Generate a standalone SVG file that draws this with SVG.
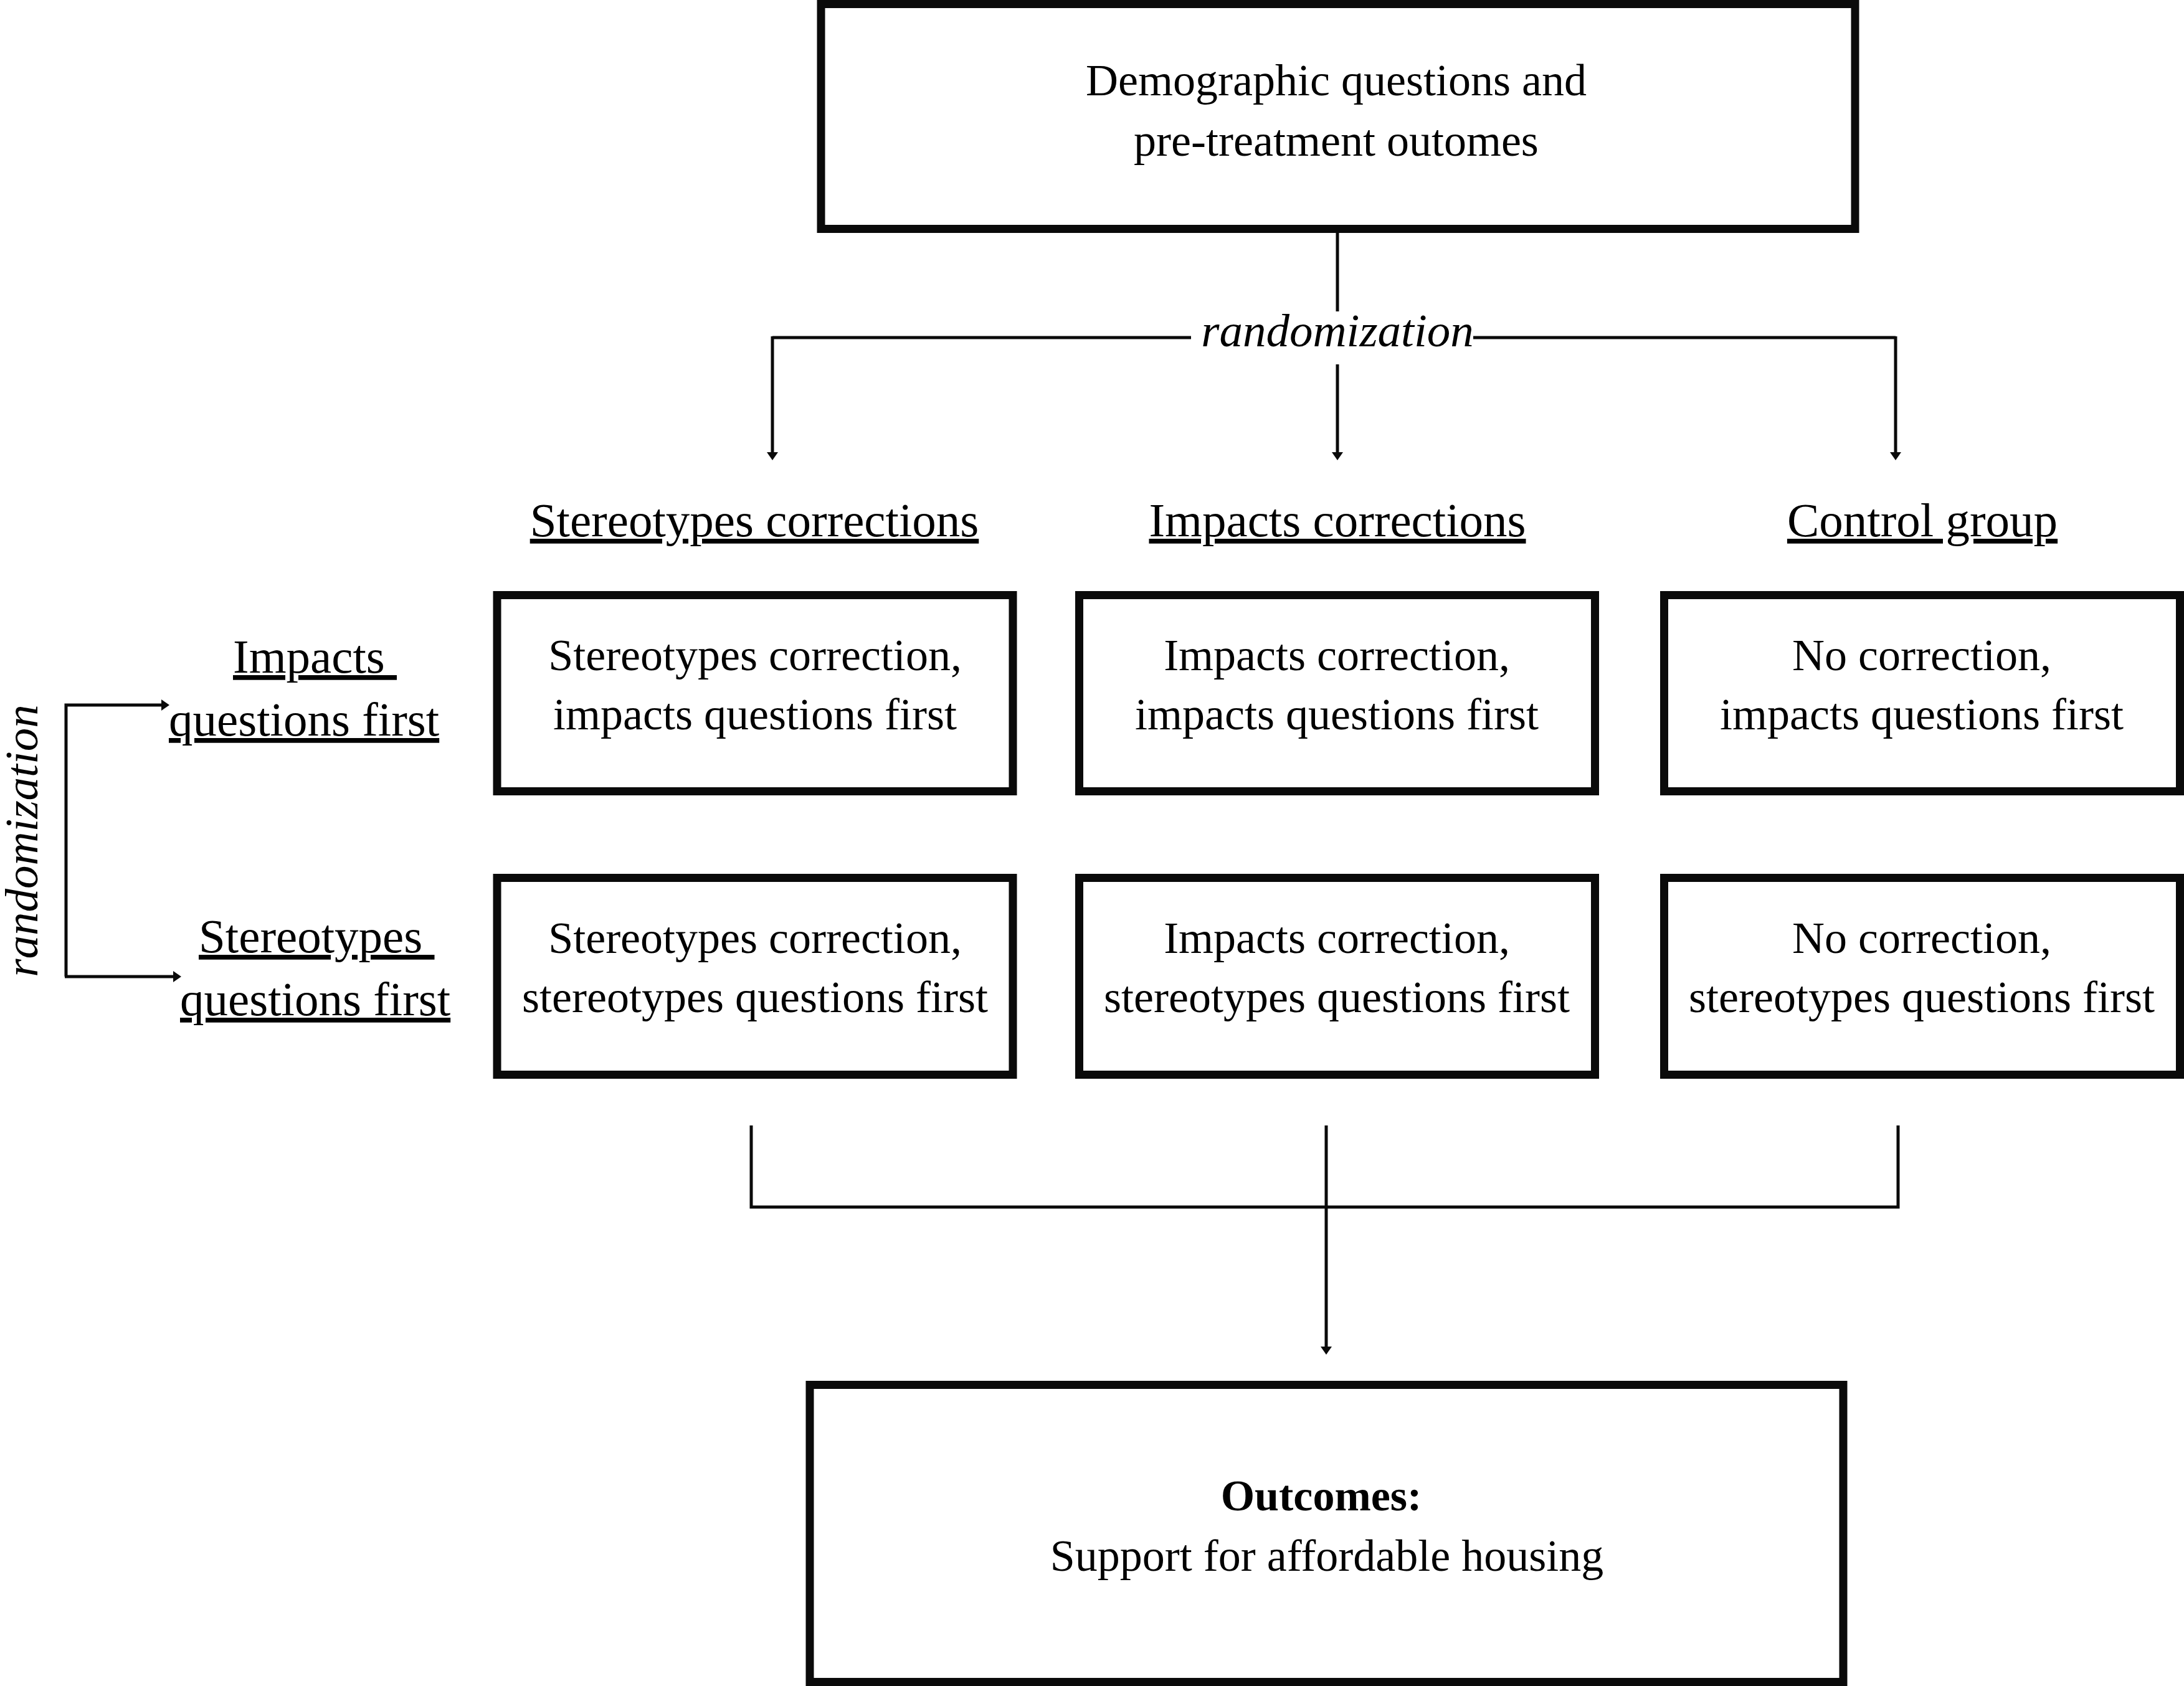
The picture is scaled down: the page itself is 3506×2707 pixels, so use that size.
<svg xmlns="http://www.w3.org/2000/svg" width="3506" height="2707" viewBox="0 0 3506 2707">
<defs>
<style>
.box{fill:#fff;stroke:#0a0a0a;stroke-width:13}
.t{font-family:"Liberation Serif","Times New Roman",serif;font-size:72px;fill:#000;text-anchor:middle}
.h{font-family:"Liberation Serif","Times New Roman",serif;font-size:77px;fill:#000;text-decoration:underline}
.hm{text-anchor:middle}
.it{font-family:"Liberation Serif","Times New Roman",serif;font-size:75px;font-style:italic;fill:#000;text-anchor:middle}
.ln{fill:none;stroke:#0a0a0a;stroke-width:5}
.b{font-weight:bold;font-size:70px}
</style>
<marker id="ah" viewBox="0 0 13 18" refX="0" refY="9" markerWidth="13" markerHeight="18" markerUnits="userSpaceOnUse" orient="auto">
<path d="M0,0 L13,9 L0,18 z" fill="#0a0a0a"/>
</marker>
</defs>
<rect width="3506" height="2707" fill="#fff"/>

<g id="connectors">
<line class="ln" x1="2147" y1="374" x2="2147" y2="500"/>
<text class="it" x="2147" y="556">randomization</text>
<line class="ln" x1="1240" y1="542" x2="1912" y2="542"/>
<line class="ln" x1="2365" y1="542" x2="3043" y2="542"/>
<path class="ln" d="M1240,540 V726" marker-end="url(#ah)"/>
<path class="ln" d="M2147,585 V726" marker-end="url(#ah)"/>
<path class="ln" d="M3043,540 V726" marker-end="url(#ah)"/>
<path class="ln" d="M106,1568 V1132 H259" marker-end="url(#ah)"/>
<path class="ln" d="M104,1568 H278" marker-end="url(#ah)"/>
<text class="it" transform="translate(60,1350) rotate(-90)">randomization</text>
<path class="ln" d="M1206,1807 V1938 H3047 V1807"/>
<path class="ln" d="M2129,1807 V2162" marker-end="url(#ah)"/>
</g>

<g id="top">
<rect class="box" x="1318" y="6.5" width="1660" height="361"/>
<text class="t" x="2145" y="153">Demographic questions and</text>
<text class="t" x="2145" y="250">pre-treatment outomes</text>
</g>

<g id="header-stereotypes"><text class="h hm" x="1211" y="861">Stereotypes corrections</text></g>
<g id="header-impacts"><text class="h hm" x="2147" y="861">Impacts corrections</text></g>
<g id="header-control"><text class="h hm" x="3086" y="861">Control group</text></g>

<g id="row-impacts"><text class="h" x="374" y="1080" xml:space="preserve">Impacts </text><text class="h" x="271" y="1181">questions first</text></g>
<g id="row-stereotypes"><text class="h" x="319" y="1529" xml:space="preserve">Stereotypes </text><text class="h" x="289" y="1630">questions first</text></g>

<g id="box-s-i">
<rect class="box" x="798" y="955.5" width="828" height="315"/>
<text class="t" x="1212" y="1076">Stereotypes correction,</text>
<text class="t" x="1212" y="1171">impacts questions first</text>
</g>
<g id="box-i-i">
<rect class="box" x="1732.5" y="955.5" width="828" height="315"/>
<text class="t" x="2146" y="1076">Impacts correction,</text>
<text class="t" x="2146" y="1171">impacts questions first</text>
</g>
<g id="box-c-i">
<rect class="box" x="2671.5" y="955.5" width="828" height="315"/>
<text class="t" x="3085" y="1076">No correction,</text>
<text class="t" x="3085" y="1171">impacts questions first</text>
</g>
<g id="box-s-s">
<rect class="box" x="798" y="1409.5" width="828" height="316"/>
<text class="t" x="1212" y="1530">Stereotypes correction,</text>
<text class="t" x="1212" y="1625">stereotypes questions first</text>
</g>
<g id="box-i-s">
<rect class="box" x="1732.5" y="1409.5" width="828" height="316"/>
<text class="t" x="2146" y="1530">Impacts correction,</text>
<text class="t" x="2146" y="1625">stereotypes questions first</text>
</g>
<g id="box-c-s">
<rect class="box" x="2671.5" y="1409.5" width="828" height="316"/>
<text class="t" x="3085" y="1530">No correction,</text>
<text class="t" x="3085" y="1625">stereotypes questions first</text>
</g>

<g id="outcomes">
<rect class="box" x="1300" y="2223.5" width="1659" height="477"/>
<text class="t b" x="2121" y="2425">Outcomes:</text>
<text class="t" x="2130" y="2522">Support for affordable housing</text>
</g>
</svg>
